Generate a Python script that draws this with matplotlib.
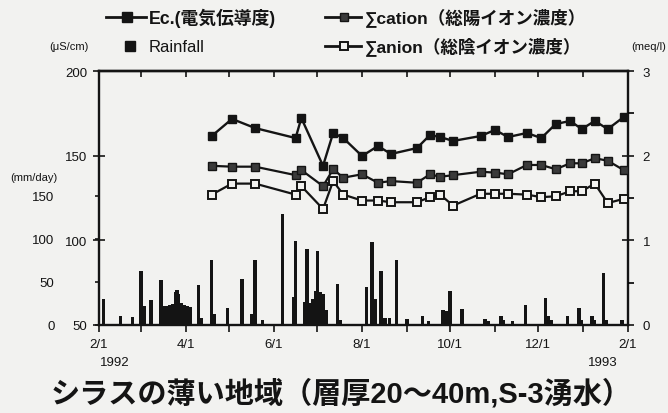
import matplotlib

matplotlib.use("Agg")

import matplotlib.dates as mdates
import matplotlib.pyplot as plt
import pandas as pd

plt.rcParams["font.family"] = ["Liberation Sans", "Noto Sans CJK JP", "DejaVu Sans"]

BG = "#f2f2f0"
INK = "#141414"

# water quality samples (spring S-3)
SAMPLE_DATES = [
    "1992-04-19", "1992-05-03", "1992-05-19", "1992-06-16", "1992-06-20", "1992-07-05",
    "1992-07-12", "1992-07-19", "1992-08-01", "1992-08-12", "1992-08-21", "1992-09-08",
    "1992-09-17", "1992-09-24", "1992-10-03", "1992-10-22", "1992-11-01", "1992-11-10",
    "1992-11-23", "1992-12-03", "1992-12-13", "1992-12-23", "1992-12-31", "1993-01-09",
    "1993-01-18", "1993-01-29",
]
EC = [161.6, 171.7, 166.3, 160.4, 172.2, 144.0, 163.4, 160.4, 149.8, 155.7, 151.0, 154.5, 162.2,
      161.0, 158.7, 161.6, 165.2, 161.0, 163.4, 160.4, 168.7, 170.5, 165.7, 170.5, 165.7, 172.8]
CATION = [1.88, 1.87, 1.87, 1.77, 1.83, 1.64, 1.84, 1.74, 1.78, 1.68, 1.70, 1.68, 1.78,
          1.75, 1.77, 1.81, 1.80, 1.78, 1.89, 1.89, 1.84, 1.91, 1.91, 1.97, 1.94, 1.83]
ANION = [1.54, 1.67, 1.67, 1.54, 1.64, 1.37, 1.70, 1.54, 1.47, 1.47, 1.45, 1.45, 1.51,
         1.54, 1.41, 1.55, 1.55, 1.55, 1.54, 1.51, 1.52, 1.58, 1.58, 1.67, 1.44, 1.49]

# daily rainfall (mm/day)
RAIN_DATES = [
    "1992-02-04", "1992-02-16", "1992-02-24", "1992-03-01", "1992-03-03", "1992-03-08",
    "1992-03-15", "1992-03-17", "1992-03-19", "1992-03-21", "1992-03-23", "1992-03-25",
    "1992-03-26", "1992-03-27", "1992-03-29", "1992-03-31", "1992-04-02", "1992-04-04",
    "1992-04-10", "1992-04-12", "1992-04-19", "1992-04-21",
    "1992-04-30", "1992-05-10", "1992-05-17", "1992-05-19", "1992-05-24", "1992-06-07",
    "1992-06-15", "1992-06-16", "1992-06-22", "1992-06-24", "1992-06-26", "1992-06-28",
    "1992-06-30", "1992-07-01", "1992-07-03", "1992-07-05", "1992-07-07", "1992-07-15",
    "1992-07-17", "1992-08-04", "1992-08-08", "1992-08-10", "1992-08-14", "1992-08-17",
    "1992-08-20", "1992-08-25", "1992-09-01", "1992-09-12", "1992-09-16", "1992-09-26",
    "1992-09-28", "1992-10-01", "1992-10-09", "1992-10-25", "1992-10-27", "1992-11-05",
    "1992-11-07", "1992-11-13", "1992-11-22", "1992-12-06", "1992-12-08", "1992-12-10",
    "1992-12-21", "1992-12-29", "1992-12-31", "1993-01-07", "1993-01-09", "1993-01-15",
    "1993-01-17", "1993-01-28",
]
RAIN = [30, 11, 9, 63, 22, 29,
        52, 22, 22, 23, 24, 38,
        41, 36, 26, 23, 22, 21,
        46, 8, 75, 13,
        20, 53, 13, 75, 6, 129,
        33, 98, 27, 88, 26, 30,
        40, 86, 38, 36, 18, 48,
        6, 44, 97, 30, 63, 8,
        8, 75, 7, 11, 5, 17,
        16, 39, 19, 7, 5, 10,
        6, 5, 23, 31, 11, 6,
        11, 20, 6, 11, 6, 60,
        6, 6]

X_LABELS = ["2/1", "4/1", "6/1", "8/1", "10/1", "12/1", "2/1"]
TITLE = "シラスの薄い地域（層厚20～40m,S-3湧水）"

samples = pd.to_datetime(SAMPLE_DATES)
rain_days = pd.to_datetime(RAIN_DATES)

fig = plt.figure(figsize=(6.68, 4.14), dpi=100, facecolor=BG)
W, H = 668, 414
ax_rain = fig.add_axes([99 / W, 1 - 326 / H, 529 / W, 254 / H], facecolor=BG)
ax_ec = ax_rain.twinx()
ax_ion = ax_rain.twinx()

# rainfall bars
ax_rain.bar(rain_days, RAIN, width=2.4, color=INK, linewidth=0)
ax_rain.set_ylim(0, 295.3)
ax_rain.set_yticks([0, 50, 100, 150])
ax_rain.set_yticklabels(["0", "50", "100", "150"])
ax_rain.tick_params(axis="y", direction="out", length=3, width=1.2, pad=29, labelsize=9.5, colors=INK)

start, end = pd.Timestamp("1992-02-01"), pd.Timestamp("1993-02-01")
ax_rain.set_xlim(start, end)
ax_rain.xaxis.set_minor_locator(mdates.MonthLocator())
ax_rain.set_xticks(pd.date_range(start, end, freq="2MS"))
ax_rain.set_xticklabels(X_LABELS)
ax_rain.tick_params(axis="x", which="both", direction="out", length=5, width=1.2,
                    pad=4, labelsize=9.5, colors=INK)

top = ax_rain.secondary_xaxis("top")
top.xaxis.set_major_locator(mdates.MonthLocator())
top.xaxis.set_major_formatter(plt.NullFormatter())
top.tick_params(direction="in", length=4, width=1.2, colors=INK)

for spine in ax_rain.spines.values():
    spine.set_linewidth(1.7)
    spine.set_color(INK)
top.spines["top"].set_linewidth(1.7)

# Ec (left, uS/cm)
ax_ec.plot(samples, EC, color=INK, lw=1.7, marker="s", ms=6.2, mfc=INK, mec=INK, zorder=3)
ax_ec.set_ylim(50, 200)
ax_ec.yaxis.tick_left()
ax_ec.set_yticks([50, 100, 150, 200])
ax_ec.tick_params(axis="y", direction="inout", length=9, width=1.2, pad=4, labelsize=9.5, colors=INK)

# ions (right, meq/l)
ax_ion.plot(samples, CATION, color=INK, lw=1.6, marker="s", ms=5.2, mfc="#3a3a3a", mec=INK, zorder=3)
ax_ion.plot(samples, ANION, color=INK, lw=1.6, marker="s", ms=5.2, mfc=BG, mec=INK, mew=1.4, zorder=3)
ax_ion.set_ylim(0, 3)
ax_ion.set_yticks([0, 1, 2, 3])
ax_ion.set_yticks([0.5, 1.5, 2.5], minor=True)
ax_ion.tick_params(axis="y", which="major", direction="inout", length=9, width=1.2, pad=6,
                   labelsize=9.5, colors=INK)
ax_ion.tick_params(axis="y", which="minor", direction="out", length=4, width=1.2)
for a in (ax_ec, ax_ion):
    for spine in a.spines.values():
        spine.set_visible(False)

# legend, units and title drawn on an overlay in pixel coordinates
ov = fig.add_axes([0, 0, 1, 1], facecolor="none")
ov.set_xlim(0, W)
ov.set_ylim(H, 0)
ov.axis("off")

ov.plot([106, 146], [18, 18], color=INK, lw=2)
ov.plot([127], [18], marker="s", ms=6.5, color=INK)
ov.text(149, 18, "Ec.(電気伝導度)", fontsize=12.8, fontweight="bold", va="center", color=INK)

ov.plot([325, 361], [18, 18], color=INK, lw=2)
ov.plot([344], [18], marker="s", ms=6, mfc="#3a3a3a", mec=INK)
ov.text(365, 18, "∑cation（総陽イオン濃度）", fontsize=12.6, fontweight="bold", va="center", color=INK)

ov.plot([325, 361], [47, 47], color=INK, lw=2)
ov.plot([344], [47], marker="s", ms=6, mfc=BG, mec=INK, mew=1.4)
ov.text(365, 47, "∑anion（総陰イオン濃度）", fontsize=12.6, fontweight="bold", va="center", color=INK)

ov.plot([130], [47], marker="s", ms=7.5, color=INK)
ov.text(149, 47, "Rainfall", fontsize=12, va="center", color=INK)

ov.text(89, 47, "(μS/cm)", fontsize=8, ha="right", va="center", color=INK)
ov.text(10, 178, "(mm/day)", fontsize=8, ha="left", va="center", color=INK)
ov.text(666, 47, "(meq/l)", fontsize=8, ha="right", va="center", color=INK)

ov.text(100, 363, "1992", fontsize=9.5, ha="left", va="center", color=INK)
ov.text(618, 363, "1993", fontsize=9.5, ha="right", va="center", color=INK)

ov.text(341, 394, TITLE, fontsize=21, fontweight="bold", ha="center", va="center", color=INK)

fig.savefig("out.png", dpi=100, facecolor=BG)
